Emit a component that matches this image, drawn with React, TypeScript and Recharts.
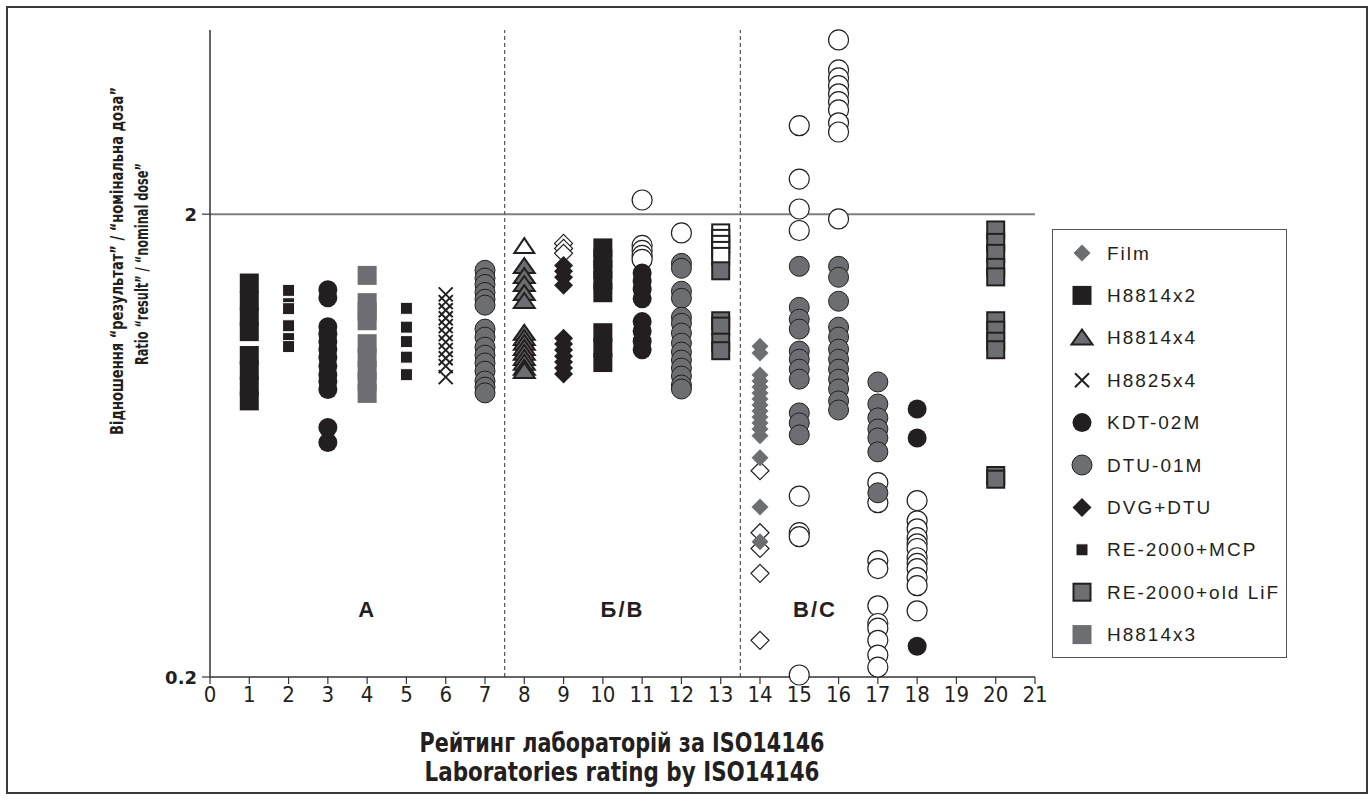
import React from "react";
import { ScatterChart, Scatter, XAxis, YAxis, ReferenceLine, ReferenceDot } from "recharts";

const BLACK = "#231f20";
const GRAY = "#6d6e71";

// [lab rating, ratios measured by that lab]
const openCircleValues: [number, number[]][] = [
  [11, [2.146, 1.712, 1.67, 1.629, 1.597]],
  [12, [1.822]],
  [15, [3.106, 2.382, 2.052, 1.844, 0.492, 0.41, 0.402, 0.202]],
  [16, [4.76, 4.1, 3.94, 3.79, 3.64, 3.5, 3.36, 3.15, 3.01, 1.953]],
  [17, [0.526, 0.476, 0.357, 0.343, 0.285, 0.261, 0.255, 0.24, 0.223, 0.21]],
  [18, [0.481, 0.435, 0.418, 0.4, 0.388, 0.379, 0.362, 0.352, 0.343, 0.328, 0.315, 0.278]],
];
const openDiamondValues: [number, number[]][] = [
  [9, [1.729, 1.687, 1.646]],
  [14, [0.558, 0.41, 0.379, 0.335, 0.24]],
];
const openTriangleValues: [number, number[]][] = [[8, [1.704]]];
const openSquareValues: [number, number[]][] = [[13, [1.822, 1.773, 1.721, 1.67, 1.621]]];

const filmValues: [number, number[]][] = [
  [14, [1.037, 1.002, 0.898, 0.872, 0.846, 0.822, 0.797, 0.774, 0.751, 0.729, 0.708, 0.687, 0.664, 0.595, 0.466, 0.392]],
];
const h8814x2Values: [number, number[]][] = [
  [1, [1.42, 1.3, 1.2, 1.115, 0.99, 0.92, 0.85, 0.79]],
  [10, [1.691, 1.6, 1.52, 1.44, 1.353, 1.109, 1.03, 0.956]],
];
const h8814x4Values: [number, number[]][] = [
  [8, [1.543, 1.468, 1.411, 1.349, 1.297, 1.107, 1.079, 1.053, 1.027, 1.002, 0.977, 0.954, 0.93, 0.916]],
];
const h8825x4Values: [number, number[]][] = [
  [6, [1.342, 1.291, 1.24, 1.192, 1.146, 1.101, 1.058, 1.017, 0.977, 0.939, 0.889]],
];
const kdtValues: [number, number[]][] = [
  [3, [1.373, 1.32, 1.143, 1.1, 1.06, 1.02, 0.98, 0.94, 0.9, 0.87, 0.836, 0.692, 0.642]],
  [11, [1.493, 1.432, 1.377, 1.313, 1.172, 1.118, 1.063, 1.019]],
  [18, [0.759, 0.657, 0.233]],
];
const dtuValues: [number, number[]][] = [
  [7, [1.513, 1.455, 1.41, 1.355, 1.31, 1.272, 1.129, 1.085, 1.032, 0.992, 0.954, 0.916, 0.872, 0.846, 0.822]],
  [12, [1.566, 1.528, 1.363, 1.316, 1.198, 1.162, 1.107, 1.053, 1.007, 0.968, 0.93, 0.894, 0.855, 0.838]],
  [15, [1.543, 1.258, 1.186, 1.129, 1.012, 0.972, 0.925, 0.88, 0.744, 0.708, 0.667]],
  [16, [1.543, 1.461, 1.297, 1.14, 1.085, 1.022, 0.972, 0.925, 0.88, 0.838, 0.79, 0.755]],
  [17, [0.868, 0.778, 0.726, 0.687, 0.657, 0.613, 0.5]],
];
const dvgValues: [number, number[]][] = [
  [9, [1.55, 1.505, 1.461, 1.404, 1.079, 1.048, 1.017, 0.987, 0.958, 0.93, 0.903]],
];
const mcpValues: [number, number[]][] = [
  [2, [1.369, 1.281, 1.25, 1.148, 1.077, 1.035]],
  [5, [1.252, 1.14, 1.061, 0.982, 0.9]],
];
const oldLiFValues: [number, number[]][] = [
  [13, [1.509, 1.177, 1.146, 1.058, 1.014]],
  [20, [1.849, 1.738, 1.646, 1.535, 1.464, 1.177, 1.123, 1.063, 1.019, 0.545, 0.535]],
];
const h8814x3Values: [number, number[]][] = [
  [4, [1.475, 1.288, 1.232, 1.177, 1.05, 0.98, 0.92, 0.87, 0.82]],
];

const xTicks = [0, 1, 2, 3, 4, 5, 6, 7, 8, 9, 10, 11, 12, 13, 14, 15, 16, 17, 18, 19, 20, 21];
const yTicks = [0.2, 2];
const groupBorders = [7.5, 13.5];
const groupLabels = [
  { x: 4, y: 0.28, text: "A" },
  { x: 10.5, y: 0.28, text: "Б/В" },
  { x: 15.4, y: 0.28, text: "В/С" },
];

const toPoints = (groups: [number, number[]][]) =>
  groups.flatMap(([x, ys]) => ys.map((y) => ({ x, y })));

// marker shapes
const square = (s: number, fill: string, stroke = "none", sw = 0) => (p: any) => (
  <rect x={p.cx - s / 2} y={p.cy - s / 2} width={s} height={s} fill={fill} stroke={stroke} strokeWidth={sw} />
);
const circle = (r: number, fill: string, stroke = "none", sw = 0) => (p: any) => (
  <circle cx={p.cx} cy={p.cy} r={r} fill={fill} stroke={stroke} strokeWidth={sw} />
);
const diamond = (s: number, fill: string, stroke = "none", sw = 0) => (p: any) => {
  const h = s / 2;
  return (
    <polygon
      points={`${p.cx},${p.cy - h} ${p.cx + h},${p.cy} ${p.cx},${p.cy + h} ${p.cx - h},${p.cy}`}
      fill={fill}
      stroke={stroke}
      strokeWidth={sw}
    />
  );
};
const triangle = (w: number, h: number, fill: string, stroke = "none", sw = 0) => (p: any) => (
  <polygon
    points={`${p.cx},${p.cy - h * 0.55} ${p.cx + w / 2},${p.cy + h * 0.45} ${p.cx - w / 2},${p.cy + h * 0.45}`}
    fill={fill}
    stroke={stroke}
    strokeWidth={sw}
    strokeLinejoin="miter"
  />
);
const cross = (s: number, stroke: string, sw: number) => (p: any) => {
  const h = s / 2;
  return (
    <path
      d={`M${p.cx - h},${p.cy - h}L${p.cx + h},${p.cy + h}M${p.cx + h},${p.cy - h}L${p.cx - h},${p.cy + h}`}
      stroke={stroke}
      strokeWidth={sw}
      fill="none"
    />
  );
};

// hollow markers first (no legend entry), filled ones drawn on top
const series = [
  { name: "open circles", data: openCircleValues, shape: circle(10, "#fff", BLACK, 1.2), legend: false },
  { name: "open diamonds", data: openDiamondValues, shape: diamond(18, "#fff", BLACK, 1.2), legend: false },
  { name: "open triangles", data: openTriangleValues, shape: triangle(20, 15, "#fff", BLACK, 2), legend: false },
  { name: "open squares", data: openSquareValues, shape: square(17, "#fff", BLACK, 2), legend: false },
  { name: "Film", data: filmValues, shape: diamond(17, GRAY), legend: true },
  { name: "H8814x2", data: h8814x2Values, shape: square(19, BLACK), legend: true },
  { name: "H8814x4", data: h8814x4Values, shape: triangle(21, 15, GRAY, BLACK, 2), legend: true },
  { name: "H8825x4", data: h8825x4Values, shape: cross(14, BLACK, 2), legend: true },
  { name: "KDT-02M", data: kdtValues, shape: circle(9.5, BLACK), legend: true },
  { name: "DTU-01M", data: dtuValues, shape: circle(10, GRAY, BLACK, 1), legend: true },
  { name: "DVG+DTU", data: dvgValues, shape: diamond(19, BLACK), legend: true },
  { name: "RE-2000+MCP", data: mcpValues, shape: square(12, BLACK, "#fff", 1), legend: true },
  { name: "RE-2000+old LiF", data: oldLiFValues, shape: square(17, GRAY, BLACK, 2), legend: true },
  { name: "H8814x3", data: h8814x3Values, shape: square(19, GRAY), legend: true },
];

const NARROW = "'Liberation Sans Narrow','DejaVu Sans Condensed','Arial Narrow',Arial,sans-serif";

const XTick = (props: any) => (
  <text x={props.x} y={props.y + 8} textAnchor="middle" dominantBaseline="central" fontSize={22} fontFamily={NARROW} fill={BLACK}>
    {props.payload.value}
  </text>
);

const YTick = (props: any) => (
  <text x={props.x - 3} y={props.y} textAnchor="end" dominantBaseline="central" fontSize={18} fontWeight="bold" fontFamily="'DejaVu Sans',sans-serif" fill={BLACK}>
    {props.payload.value}
  </text>
);

const YTitle = () => (
  <g fontWeight="bold" fontSize={17} fill={BLACK} fontFamily={NARROW}>
    <text transform="translate(116.5,261) rotate(-90)" textAnchor="middle" dominantBaseline="central" textLength={348} lengthAdjust="spacingAndGlyphs">
      Відношення “результат” / “номінальна доза”
    </text>
    <text transform="translate(141.5,264) rotate(-90)" textAnchor="middle" dominantBaseline="central" textLength={202} lengthAdjust="spacingAndGlyphs">
      Ratio “result” / “nominal dose”
    </text>
  </g>
);

const XTitle = () => (
  <g fontWeight="bold" fontSize={26} fill={BLACK} fontFamily={NARROW}>
    <text x={622} y={743} textAnchor="middle" dominantBaseline="central" textLength={405} lengthAdjust="spacingAndGlyphs">
      Рейтинг лабораторій за ISO14146
    </text>
    <text x={622} y={772} textAnchor="middle" dominantBaseline="central" textLength={395} lengthAdjust="spacingAndGlyphs">
      Laboratories rating by ISO14146
    </text>
  </g>
);

const LegendBox = () => {
  const items = series.filter((s) => s.legend);
  return (
    <div style={{ position: "absolute", left: 1052, top: 229, width: 235, height: 429, boxSizing: "border-box", border: "1.5px solid #555", background: "#fff" }}>
      <svg width={232} height={426}>
        {items.map((s, i) => {
          const cy = 23 + i * 42.4;
          return (
            <g key={s.name}>
              {s.shape({ cx: 29, cy })}
              <text x={54} y={cy} dominantBaseline="central" fontSize={19} letterSpacing={2} fill={BLACK}>
                {s.name}
              </text>
            </g>
          );
        })}
      </svg>
    </div>
  );
};

export default function App() {
  return (
    <div style={{ position: "absolute", left: 0, top: 0, width: 1370, height: 800, background: "#fff", fontFamily: "'Liberation Sans',Arial,sans-serif" }}>
      <div style={{ position: "absolute", left: 6, top: 6, width: 1362, height: 788, boxSizing: "border-box", border: "2px solid #3a3a3a" }} />
      <ScatterChart width={1370} height={800} margin={{ top: 30, right: 335, bottom: 83, left: 120 }}>
        <XAxis
          type="number"
          dataKey="x"
          domain={[0, 21]}
          ticks={xTicks}
          interval={0}
          height={40}
          tickSize={7}
          axisLine={{ stroke: "#333", strokeWidth: 1.5 }}
          tickLine={{ stroke: "#333", strokeWidth: 1.2 }}
          tick={XTick}
          label={<XTitle />}
        />
        <YAxis
          type="number"
          dataKey="y"
          scale="log"
          domain={[0.2, 5]}
          ticks={yTicks}
          interval={0}
          width={90}
          tickSize={8}
          axisLine={{ stroke: "#333", strokeWidth: 1.5 }}
          tickLine={{ stroke: "#333", strokeWidth: 1.2 }}
          tick={YTick}
          label={<YTitle />}
        />
        <ReferenceLine y={2} stroke="#7f7f7f" strokeWidth={2} />
        {groupBorders.map((x) => (
          <ReferenceLine key={x} x={x} stroke="#555" strokeWidth={1.2} strokeDasharray="4 3" />
        ))}
        {groupLabels.map((g) => (
          <ReferenceDot
            key={g.text}
            x={g.x}
            y={g.y}
            r={1}
            fill="none"
            stroke="none"
            label={{ value: g.text, position: "center", fill: BLACK, fontSize: 22, fontWeight: "bold", letterSpacing: 2 }}
          />
        ))}
        {series.map((s) => (
          <Scatter key={s.name} name={s.name} data={toPoints(s.data)} shape={s.shape} isAnimationActive={false} />
        ))}
      </ScatterChart>
      <LegendBox />
    </div>
  );
}
